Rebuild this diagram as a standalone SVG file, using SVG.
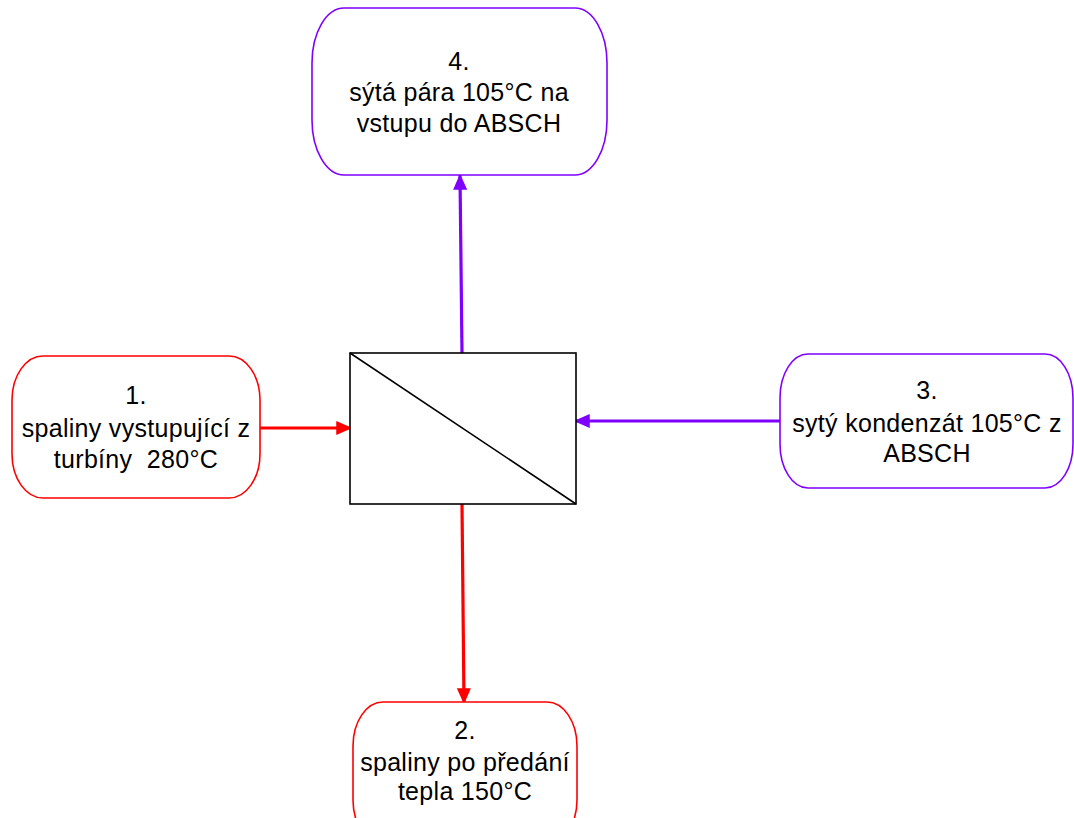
<svg xmlns="http://www.w3.org/2000/svg" width="1074" height="818" viewBox="0 0 1074 818">
<style>
.t{font-family:"Liberation Sans",Arial,sans-serif;font-size:25px;fill:#000;text-anchor:middle;letter-spacing:0.3px;white-space:pre}
.red{fill:#fff;stroke:#ff0000;stroke-width:1.6}
.pur{fill:#fff;stroke:#7f00ff;stroke-width:1.6}
.cr{stroke:#ff0000;stroke-width:3.2;fill:none}
.cp{stroke:#7f00ff;stroke-width:3.2;fill:none}
</style>
<defs>
<marker id="ar" markerWidth="6" markerHeight="6" refX="4.6" refY="3" orient="auto" markerUnits="strokeWidth"><path d="M0,0.8 L5,3 L0,5.2 Z" fill="#ff0000"/></marker>
<marker id="ap" markerWidth="6" markerHeight="6" refX="4.6" refY="3" orient="auto" markerUnits="strokeWidth"><path d="M0,0.8 L5,3 L0,5.2 Z" fill="#7f00ff"/></marker>
</defs>
<rect width="1074" height="818" fill="#fff"/>
<g id="connectors">
<line class="cr" x1="260" y1="428" x2="351" y2="428" marker-end="url(#ar)"/>
<line class="cp" x1="780" y1="421" x2="575" y2="421" marker-end="url(#ap)"/>
<line class="cp" x1="462" y1="353" x2="460" y2="175" marker-end="url(#ap)"/>
<line class="cr" x1="462" y1="504" x2="464" y2="703" marker-end="url(#ar)"/>
</g>
<g id="exchanger">
<rect x="350" y="353" width="226" height="151" fill="#fff" stroke="#000" stroke-width="1.6"/>
<line x1="350" y1="353" x2="576" y2="504" stroke="#000" stroke-width="1.6"/>
</g>
<g id="node1">
<rect class="red" x="12" y="356" width="248" height="142" rx="31" ry="44"/>
<text class="t"><tspan x="136" y="404">1.</tspan><tspan x="136" y="437">spaliny vystupující z</tspan><tspan x="136" y="468">turbíny  280°C</tspan></text>
</g>
<g id="node4">
<rect class="pur" x="312" y="8" width="295" height="167" rx="32" ry="55"/>
<text class="t"><tspan x="459" y="70">4.</tspan><tspan x="459" y="101">sýtá pára 105°C na</tspan><tspan x="459" y="132">vstupu do ABSCH</tspan></text>
</g>
<g id="node3">
<rect class="pur" x="780" y="354" width="293" height="134" rx="28" ry="44"/>
<text class="t"><tspan x="927" y="399">3.</tspan><tspan x="927" y="432">sytý kondenzát 105°C z</tspan><tspan x="927" y="462">ABSCH</tspan></text>
</g>
<g id="node2">
<rect class="red" x="353" y="702" width="224" height="142" rx="30" ry="44"/>
<text class="t"><tspan x="465" y="739">2.</tspan><tspan x="465" y="771">spaliny po předání</tspan><tspan x="465" y="800">tepla 150°C</tspan></text>
</g>
</svg>
